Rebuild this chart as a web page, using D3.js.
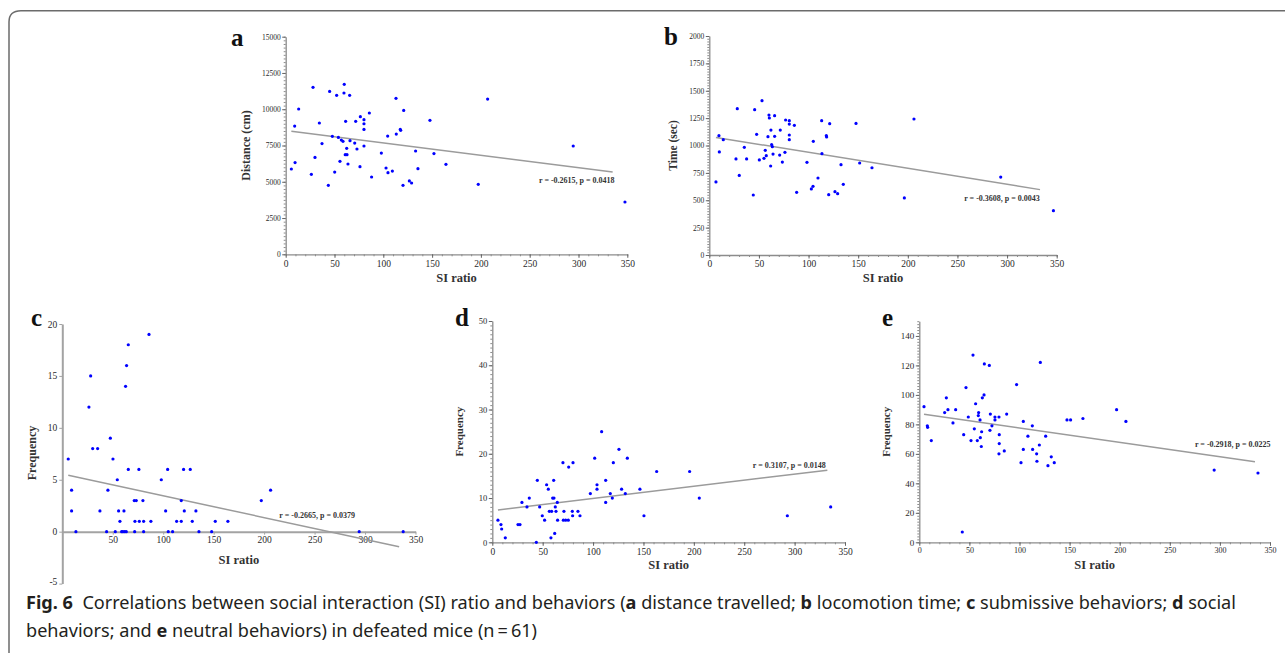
<!DOCTYPE html>
<html>
<head>
<meta charset="utf-8">
<script src="https://cdn.jsdelivr.net/npm/d3@7"></script>
<style>
  body { margin: 0; background: #fff; }
  text { white-space: pre; }
</style>
</head>
<body>
<script>
// ---- data: [SI ratio, value] ----
const siTicks = [0, 50, 100, 150, 200, 250, 300, 350];

const distancePts = [
  [5.8, 5880], [9.2, 8840], [9.6, 6320], [13.3, 10015], [26.3, 5510], [28, 11510], [30, 6680],
  [34.5, 9050], [37.2, 7630], [43.7, 4755], [45, 11230], [47.8, 8130], [50.2, 5670], [52.2, 10960],
  [54, 8060], [55.6, 6410], [57, 7880], [58.7, 7790], [59.7, 11120], [60, 11715], [61, 6870],
  [61.4, 9165], [62.5, 7305], [62.8, 6870], [63.8, 6225], [65.5, 10960], [65.9, 7830], [70.7, 7670],
  [71.7, 9165], [73, 7260], [76.1, 6040], [76.5, 9490], [80.2, 9280], [80.2, 9000], [80.2, 8610],
  [80.2, 7465], [85.7, 9740], [88, 5330], [98, 6980], [102.8, 5950], [104.5, 8150], [104.8, 5630],
  [109.3, 5740], [113, 10750], [113.3, 8290], [117.4, 8610], [117.8, 8545], [120.2, 4755],
  [120.9, 9920], [126.7, 5055], [129, 4915], [133.1, 7120], [135.5, 5900], [147.8, 9235],
  [151.9, 6940], [164.2, 6200], [197.3, 4825], [206.9, 10700], [294.6, 7465], [347.6, 3605]
];
const timePts = [
  [6.7, 667], [9.7, 1090], [10.1, 941], [14.1, 1053], [26.9, 877], [28.2, 1336], [30.2, 727],
  [35.3, 983], [37.6, 877], [44.3, 548], [45.7, 1327], [47.7, 1102], [50.4, 868], [53.1, 1409],
  [55.1, 883], [56.4, 956], [57.4, 907], [59.1, 1081], [60.1, 1278], [60.5, 1251], [61.8, 813],
  [62.1, 1141], [62.8, 1008], [63.5, 989], [64.2, 922], [65.8, 1084], [65.8, 1272], [70.9, 913],
  [71.5, 1141], [73.6, 849], [76.2, 938], [76.9, 1233], [80.6, 1227], [80.6, 1196], [80.6, 1096],
  [80.6, 1053], [85.7, 1184], [88, 572], [98.4, 846], [102.8, 603], [104.5, 627], [104.8, 1038],
  [109.5, 703], [113.2, 1227], [113.5, 925], [117.9, 1090], [118.2, 1078], [120.3, 551],
  [121.3, 1199], [126.6, 578], [129.3, 560], [132.7, 825], [135, 645], [147.8, 1202], [151.5, 840],
  [163.9, 797], [196.5, 521], [206.2, 1242], [293.6, 712], [346.7, 405]
];
const submissivePts = [
  [5.9, 7], [9.2, 4], [9.2, 2], [13.5, 0], [26.4, 12], [28.1, 15], [30.1, 8], [35, 8], [37.3, 2],
  [43.9, 0], [45.2, 4], [47.6, 9], [50.2, 7], [52.5, 0], [54.5, 5], [55.8, 2], [57.1, 1], [58.8, 0],
  [60.1, 0], [61.1, 2], [61.8, 0], [62.7, 14], [63.4, 0], [63.7, 16], [65.4, 18], [65.4, 6],
  [71.3, 3], [71.7, 0], [72, 1], [73.3, 3], [75.9, 6], [76.3, 1], [79.9, 3], [80.6, 1], [80.6, 0],
  [85.9, 19], [87.8, 1], [98.1, 5], [102.4, 2], [104.4, 6], [105, 0], [109.3, 0], [113.3, 1],
  [117.9, 1], [117.9, 3], [120.2, 6], [120.9, 2], [126.8, 6], [128.8, 1], [132.4, 2], [135.4, 0],
  [148, 0], [151.6, 1], [164.1, 1], [197.2, 3], [206.4, 4], [294.2, 0], [337.8, 0]
];
const socialPts = [
  [5.6, 5], [8.6, 4], [9.3, 3], [12.9, 1], [25.5, 4], [27.5, 4], [29.4, 9], [34.4, 8], [36.7, 10],
  [43.7, 0], [44.7, 14], [47, 8], [49.6, 6], [51.9, 5], [53.9, 13], [55.6, 12], [56.6, 7], [58.2, 1],
  [58.9, 7], [59.9, 10], [60.9, 14], [61.2, 10], [61.9, 2], [62.5, 8], [63.2, 7], [64.5, 9],
  [64.8, 5], [70.1, 18], [71.1, 7], [70.5, 5], [72.8, 5], [75.4, 5], [75.8, 17], [79.4, 7],
  [79.7, 6], [80.1, 18], [85, 7], [87, 6], [97.3, 11], [101.6, 19], [103.9, 12], [103.9, 13],
  [108.5, 25], [112.5, 9], [112.5, 14], [117.1, 11], [119.1, 10], [120.1, 18], [125.7, 21],
  [128.3, 12], [132, 11], [134, 19], [146.5, 12], [150.5, 6], [163.1, 16], [195.8, 16], [205.4, 10],
  [292.8, 6], [335.8, 8]
];
const neutralPts = [
  [4.7, 92], [8, 79], [8.3, 78], [12, 69], [25.3, 88], [27, 98], [28.6, 90], [33.6, 81], [36.3, 90],
  [44.3, 73], [42.9, 7], [46.6, 105], [48.9, 85], [51.6, 69], [53.6, 127], [54.9, 77], [56.2, 94],
  [57.9, 69], [58.9, 86], [59.2, 88], [60.6, 83], [60.9, 71], [61.9, 65], [62.2, 75], [62.9, 98],
  [64.6, 100], [64.9, 121], [69.9, 120], [70.5, 76], [70.9, 87], [72.5, 79], [75.5, 85], [75.5, 83],
  [79.5, 85], [79.8, 73], [79.8, 67], [79.5, 60], [84.8, 62], [87.2, 87], [97.1, 107], [101.5, 54],
  [103.8, 82], [103.8, 63], [108.4, 72], [112.8, 79], [113.1, 63], [117.1, 60], [117.4, 55],
  [119.8, 66], [120.8, 122], [126.1, 72], [128.4, 52], [131.7, 58], [134.7, 54], [147.4, 83],
  [151, 83], [163.3, 84], [196.9, 90], [206.2, 82], [294.3, 49], [338, 47]
];

// fitted lines as drawn (end points)
const fitDistance = [[5.8, 8476], [335, 5674]];
const fitTime = [[6.7, 1074], [333.2, 597]];
const fitSubmissive = [[5.9, 5.43], [333.8, -1.45]];
const fitSocial = [[5.6, 7.3], [332.5, 16.3]];
const fitNeutral = [[4.7, 86.9], [335, 54.7]];

const statText = [
  'r = -0.2615, p = 0.0418', 'r = -0.3608, p = 0.0043', 'r = -0.2665, p = 0.0379',
  'r = 0.3107, p = 0.0148', 'r = -0.2918, p = 0.0225'
];

const distanceTicks = d3.range(0, 15001, 2500);
const timeTicks = d3.range(0, 2001, 250);
const submissiveTicks = [-5, 0, 5, 10, 15, 20];
const socialTicks = [0, 10, 20, 30, 40, 50];
const neutralTicks = [0, 20, 40, 60, 80, 100, 120, 140];

// ---- drawing ----
const svg = d3.select('body').append('svg')
  .attr('width', 1285).attr('height', 653)
  .style('font-family', "'Liberation Serif', 'Times New Roman', serif");

svg.append('rect').attr('width', 1285).attr('height', 653).attr('fill', '#fff');

// figure frame (top and left edge, rounded corner)
svg.append('path')
  .attr('d', 'M 9 653 V 22 Q 9 10.7 21 10.7 H 1285')
  .attr('fill', 'none').attr('stroke', '#6b6b6b').attr('stroke-width', 1.5);

const panels = [
  { letter: 'a', pts: distancePts, fit: fitDistance, stat: statText[0], statAt: [337, 4900],
    yTitle: 'Distance (cm)', yTicks: distanceTicks, yMinor: 250, ydom: [0, 15000],
    xpx: [285.7, 627.3], ypx: [254.3, 36.7], letterAt: [231, 46], yTitleX: 250, xTitleY: 282,
    yFont: 7.5, xFont: 9.5, yTitleFont: 12 },
  { letter: 'b', pts: timePts, fit: fitTime, stat: statText[1], statAt: [333, 496],
    yTitle: 'Time (sec)', yTicks: timeTicks, yMinor: 25, ydom: [0, 2000],
    xpx: [709.3, 1056.7], ypx: [255, 36], letterAt: [664, 45], yTitleX: 677, xTitleY: 282,
    yFont: 7.5, xFont: 9.5, yTitleFont: 11.5 },
  { letter: 'c', pts: submissivePts, fit: fitSubmissive, stat: statText[2], statAt: [290, 1.29],
    yTitle: 'Frequency', yTicks: submissiveTicks, ydom: [-5, 20], plain: true,
    xpx: [62.3, 415.5], ypx: [583.6, 324], letterAt: [31, 326], yTitleX: 35.5, xTitleY: 564,
    yFont: 9.5, xFont: 9.5, yTitleFont: 12 },
  { letter: 'd', pts: socialPts, fit: fitSocial, stat: statText[3], statAt: [331, 16.9],
    yTitle: 'Frequency', yTicks: socialTicks, yMinor: 1, ydom: [0, 50],
    xpx: [492.3, 845], ypx: [542.3, 321], letterAt: [455, 326], yTitleX: 462.5, xTitleY: 568.5,
    yFont: 8.5, xFont: 9.5, yTitleFont: 11 },
  { letter: 'e', pts: neutralPts, fit: fitNeutral, stat: statText[4], statAt: [350.6, 64.9],
    yTitle: 'Frequency', yTicks: neutralTicks, yMinor: 2, ydom: [0, 150],
    xpx: [919.3, 1270], ypx: [542.3, 321.2], letterAt: [882, 326], yTitleX: 890, xTitleY: 569,
    yFont: 9, xFont: 8, yTitleFont: 11 }
];

const plainNum = d => String(d);

function styleAxis(sel, color, width, font) {
  sel.select('.domain').attr('stroke', color).attr('stroke-width', width);
  sel.selectAll('.tick line').attr('stroke', color).attr('stroke-width', 1);
  sel.selectAll('.tick text')
    .attr('fill', '#2a2a2a').attr('font-size', font)
    .attr('font-family', "'Liberation Serif', serif");
}

function drawPanel(p) {
  const x = d3.scaleLinear().domain([0, 350]).range(p.xpx);
  const y = d3.scaleLinear().domain(p.ydom).range(p.ypx);
  const g = svg.append('g');

  if (p.plain) {
    const xa = g.append('g').attr('transform', `translate(0,${y(0)})`)
      .call(d3.axisBottom(x).tickValues(siTicks.slice(1)).tickFormat(plainNum)
        .tickSize(3).tickSizeOuter(0).tickPadding(2));
    styleAxis(xa, '#a3a3a3', 2, p.xFont);
    const ya = g.append('g').attr('transform', `translate(${x(0)},0)`)
      .call(d3.axisLeft(y).tickValues(p.yTicks).tickFormat(plainNum)
        .tickSize(3).tickSizeOuter(0).tickPadding(2));
    styleAxis(ya, '#a3a3a3', 2, p.yFont);
    // lowest label sits just above the caption
    ya.selectAll('.tick text').filter(d => d === -5).attr('dy', '0.1em');
  } else {
    const yMinor = d3.range(p.ydom[0], p.ydom[1] + 1e-9, p.yMinor);
    const xm = g.append('g').attr('transform', `translate(0,${y(0)})`)
      .call(d3.axisBottom(x).tickValues(d3.range(0, 351, 10)).tickSize(2).tickSizeOuter(0).tickFormat(''));
    styleAxis(xm, '#8c8c8c', 1.3, p.xFont);
    const ym = g.append('g').attr('transform', `translate(${x(0)},0)`)
      .call(d3.axisLeft(y).tickValues(yMinor).tickSize(2).tickSizeOuter(0).tickFormat(''));
    styleAxis(ym, '#8c8c8c', 1.3, p.yFont);
    const xa = g.append('g').attr('transform', `translate(0,${y(0)})`)
      .call(d3.axisBottom(x).tickValues(siTicks).tickFormat(plainNum)
        .tickSize(3.5).tickSizeOuter(0).tickPadding(2));
    xa.select('.domain').remove();
    styleAxis(xa, '#666', 1, p.xFont);
    const ya = g.append('g').attr('transform', `translate(${x(0)},0)`)
      .call(d3.axisLeft(y).tickValues(p.yTicks).tickFormat(plainNum)
        .tickSize(3.5).tickSizeOuter(0).tickPadding(1.5));
    ya.select('.domain').remove();
    styleAxis(ya, '#666', 1, p.yFont);
  }

  // regression line
  g.append('path')
    .attr('d', d3.line().x(d => x(d[0])).y(d => y(d[1]))(p.fit))
    .attr('fill', 'none').attr('stroke', '#9b9b9b').attr('stroke-width', 1.5);

  // points
  g.selectAll('circle.pt').data(p.pts).join('circle')
    .attr('class', 'pt')
    .attr('cx', d => x(d[0])).attr('cy', d => y(d[1]))
    .attr('r', 1.6).attr('fill', '#0000ff');

  // statistics label
  g.append('text')
    .attr('x', x(p.statAt[0])).attr('y', y(p.statAt[1]))
    .attr('text-anchor', 'end').attr('font-size', 8).attr('font-weight', 'bold')
    .attr('fill', '#333').text(p.stat);

  // axis titles
  const xMid = (p.xpx[0] + p.xpx[1]) / 2;
  g.append('text').attr('x', xMid).attr('y', p.xTitleY)
    .attr('text-anchor', 'middle').attr('font-size', 12.5).attr('font-weight', 'bold')
    .attr('fill', '#333').text('SI ratio');
  const yMid = p.plain ? 453 : (p.ypx[0] + p.ypx[1]) / 2;
  g.append('text')
    .attr('transform', `translate(${p.yTitleX},${yMid}) rotate(-90)`)
    .attr('text-anchor', 'middle').attr('font-size', p.yTitleFont).attr('font-weight', 'bold')
    .attr('fill', '#333').text(p.yTitle);

  // panel letter
  g.append('text').attr('x', p.letterAt[0]).attr('y', p.letterAt[1])
    .attr('font-size', 25).attr('font-weight', 'bold').attr('fill', '#111').text(p.letter);
}

panels.forEach(drawPanel);

// ---- caption ----
const capFont = "'Noto Sans', 'Open Sans', sans-serif";
const cap = svg.append('g').attr('font-family', capFont).attr('font-size', 18.5).attr('fill', '#231f20');

function richLine(yPos, parts) {
  const t = cap.append('text').attr('x', 26).attr('y', yPos);
  parts.forEach(([s, b]) => t.append('tspan').attr('font-weight', b ? 'bold' : 'normal').text(s));
  return t;
}

const line1 = richLine(609, [
  ['Fig. 6', true], ['  Correlations between social interaction (SI) ratio and behaviors (', false],
  ['a', true], [' distance travelled; ', false], ['b', true], [' locomotion time; ', false],
  ['c', true], [' submissive behaviors; ', false], ['d', true], [' social', false]
]);
richLine(637, [
  ['behaviors; and ', false], ['e', true], [' neutral behaviors) in defeated mice (n\u2009=\u200961)', false]
]);

const k = (1237 - 26) / line1.node().getComputedTextLength();
cap.attr('transform', `translate(26,0) scale(${k},1) translate(-26,0)`);
</script>
</body>
</html>
